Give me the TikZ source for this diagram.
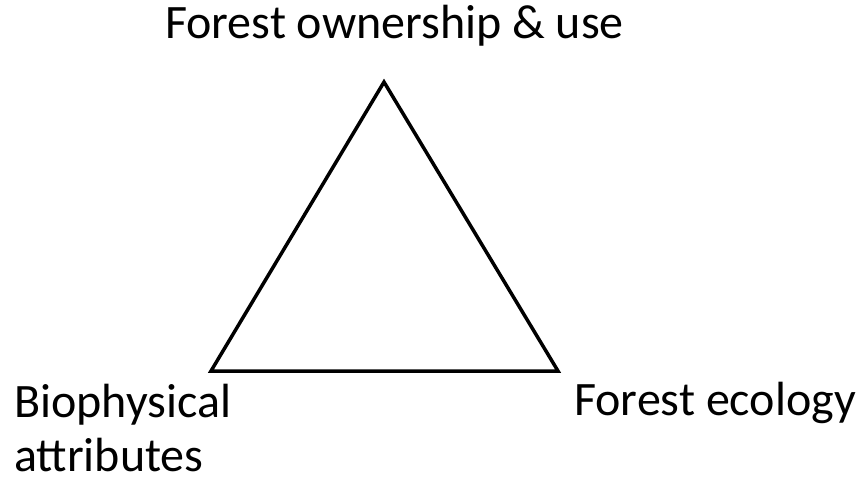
\documentclass[tikz,border=0pt]{standalone}
\usepackage{fontspec}
\setmainfont{Carlito}
\begin{document}
\begin{tikzpicture}[x=1pt,y=-1pt,
  lbl/.style={inner sep=0pt,font=\fontsize{48}{55}\selectfont},
  edge/.style={draw=black,line width=3.5pt,line join=miter}]
\useasboundingbox (0,0) rectangle (859,477);
\coordinate (T) at (384,82);
\coordinate (L) at (211,371);
\coordinate (R) at (558,371);
\draw[edge] (T) -- (L) -- (R) -- cycle;
\node[lbl,anchor=base] (top) at (394.5,38) {Forest ownership \& use};
\node[lbl,anchor=base west] (bio) at (14,417) {Biophysical};
\node[lbl,anchor=base west] (att) at (14,471) {attributes};
\node[lbl,anchor=base west] (eco) at (574,415) {Forest ecology};
\end{tikzpicture}
\end{document}
